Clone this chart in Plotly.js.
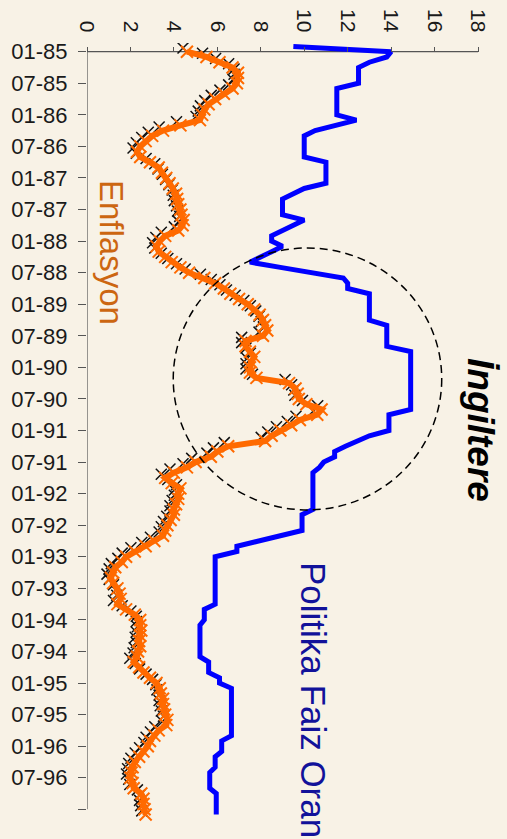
<!DOCTYPE html>
<html><head><meta charset="utf-8">
<script src="https://cdn.plot.ly/plotly-3.0.1.min.js"></script>
<style>html,body{margin:0;padding:0;background:#F8F2E6;overflow:hidden}</style>
</head><body><div id="chart" style="width:507px;height:839px"></div>
<script>
// Politika faiz oranı, aylık, Ara-84 ... Şub-97
const politikaFaiz = [
  9.5, 14, 13.8, 13, 12.5, 12.5, 12.5, 12.5, 11.5, 11.5, 11.5, 11.5,
  11.5, 11.5, 12.4, 11.5, 10.5, 10, 10, 10, 10, 10, 11, 11,
  11, 11, 11, 10, 9.5, 9, 9, 9, 9, 10, 9.5, 9,
  8.5, 8.5, 9, 8.5, 8, 7.5, 8.9, 10.4, 11.8, 12, 12, 13,
  13, 13, 13, 13, 13, 13.8, 13.8, 13.8, 13.8, 13.8, 14.9, 14.9,
  14.9, 14.9, 14.9, 14.9, 14.9, 14.9, 14.9, 14.9, 14.9, 14.9, 13.9, 13.9,
  13.9, 13.9, 13, 12.4, 11.9, 11.4, 11.4, 10.9, 10.7, 10.4, 10.4, 10.4,
  10.4, 10.4, 10.4, 10.4, 10.4, 9.9, 9.9, 9.9, 9.9, 8.9, 7.9, 6.9,
  6.9, 5.9, 5.9, 5.9, 5.9, 5.9, 5.9, 5.9, 5.9, 5.9, 5.9, 5.4,
  5.4, 5.4, 5.2, 5.2, 5.2, 5.2, 5.2, 5.2, 5.2, 5.6, 5.6, 5.6,
  6.1, 6.1, 6.65, 6.65, 6.65, 6.65, 6.65, 6.65, 6.65, 6.65, 6.65, 6.65,
  6.2, 6.2, 6.2, 5.9, 5.9, 5.9, 5.65, 5.65, 5.65, 5.65, 5.95, 5.95,
  5.95, 5.95, 5.95
];
const faizIlkAy = -1; // Ara-84

// Enflasyon, aylık, Oca-85 ... Şub-97
const enflasyon = [
  4.6, 5.5, 6.1, 6.7, 6.95, 6.95, 6.9, 6.7, 6.3, 5.9, 5.6, 5.4,
  5.3, 5.2, 4.3, 3.5, 3.0, 2.7, 2.45, 2.3, 2.45, 2.9, 3.3, 3.45,
  3.65, 3.8, 3.95, 4.1, 4.15, 4.2, 4.3, 4.35, 4.45, 4.4, 4.2, 3.6,
  3.35, 3.2, 3.3, 3.6, 3.9, 4.3, 4.7, 5.4, 5.9, 6.3, 6.6, 7.0,
  7.4, 7.7, 7.95, 8.1, 8.2, 8.3, 8.1, 7.3, 7.3, 7.5, 7.7, 7.55,
  7.5, 7.5, 7.8, 9.3, 9.6, 9.7, 9.75, 10.1, 10.8, 10.6, 9.8, 9.4,
  8.9, 8.5, 8.2, 6.5, 6.0, 5.7, 5.0, 4.6, 4.0, 3.6, 3.9, 4.3,
  4.2, 4.2, 4.1, 4.0, 4.0, 3.85, 3.7, 3.6, 3.5, 3.1, 2.7, 2.2,
  1.8, 1.6, 1.3, 1.2, 1.1, 1.2, 1.4, 1.5, 1.55, 1.4, 1.8, 2.2,
  2.45, 2.45, 2.5, 2.45, 2.4, 2.45, 2.35, 2.3, 2.15, 2.4, 2.6, 2.9,
  3.2, 3.35, 3.4, 3.5, 3.5, 3.55, 3.6, 3.7, 3.65, 3.3, 3.1, 2.9,
  2.8, 2.6, 2.4, 2.2, 2.1, 2.05, 2.0, 2.1, 2.15, 2.5, 2.6, 2.6,
  2.65, 2.7
];
const enflasyonIlkAy = 0; // Oca-85

const donemEtiketleri = ['01-85','07-85','01-86','07-86','01-87','07-87','01-88','07-88',
  '01-89','07-89','01-90','07-90','01-91','07-91','01-92','07-92','01-93','07-93',
  '01-94','07-94','01-95','07-95','01-96','07-96',''];
const degerTikleri = [0, 2, 4, 6, 8, 10, 12, 14, 16, 18];

// ---- geometry (pixels) ----
const W = 507, H = 839;
const L = 87, R = 29, T = 43, B = 16;
const plotW = W - L - R, plotH = H - T - B;
const yTop = -1.654, yBot = 146.6; // months at top/bottom edge of plot area
const px2paperX = px => (px - L) / plotW;
const px2paperY = py => (H - B - py) / plotH;

const faizAy = politikaFaiz.map((_, i) => i + faizIlkAy);
const enfAy = enflasyon.map((_, i) => i + enflasyonIlkAy);
const tickAy = donemEtiketleri.map((_, i) => i * 6);

const traces = [
  { x: politikaFaiz, y: faizAy, type: 'scatter', mode: 'lines',
    line: { color: '#0000FF', width: 5 }, hoverinfo: 'skip' },
  { x: enflasyon.map(v => v - 0.18), y: enfAy.map(m => m - 0.7), type: 'scatter', mode: 'markers',
    marker: { symbol: 'x-thin', size: 11, line: { color: '#111111', width: 1.5 } }, hoverinfo: 'skip' },
  { x: enflasyon, y: enfAy, type: 'scatter', mode: 'lines+markers',
    line: { color: '#FF6A00', width: 6 },
    marker: { symbol: 'x-thin', size: 12, color: '#FF6A00', line: { color: '#FF6A00', width: 2 } }, hoverinfo: 'skip' }
];

const layout = {
  width: W, height: H,
  margin: { l: L, r: R, t: T, b: B, pad: 0 },
  paper_bgcolor: '#F8F2E6', plot_bgcolor: '#F8F2E6',
  showlegend: false,
  font: { family: 'Liberation Sans, Arial, sans-serif', color: '#1a1a1a' },
  xaxis: {
    range: [0, 18], side: 'top', anchor: 'free',
    position: (yBot - 0) / (yBot - yTop),
    tickvals: degerTikleri, ticktext: degerTikleri.map(String),
    ticks: 'outside', ticklen: 5, tickcolor: '#555', tickwidth: 1,
    tickangle: 90, tickfont: { size: 21, color: '#1a1a1a' }, ticklabelstandoff: 7,
    showgrid: false, zeroline: false, showline: false, fixedrange: true
  },
  yaxis: {
    range: [yBot, yTop],
    tickvals: tickAy, ticktext: donemEtiketleri,
    ticks: 'outside', ticklen: 8, tickcolor: '#555', tickwidth: 1,
    tickfont: { size: 22, color: '#1a1a1a' }, ticklabelstandoff: 6,
    showgrid: false, zeroline: false, showline: false, fixedrange: true
  },
  shapes: [
    { type: 'line', xref: 'x', yref: 'y', x0: 0, x1: 0, y0: 0, y1: 144, layer: 'below',
      line: { color: '#555', width: 1.2 } },
    { type: 'line', xref: 'x', yref: 'y', x0: 0, x1: 18, y0: 0, y1: 0, layer: 'below',
      line: { color: '#555', width: 1.2 } },
    { type: 'circle', xref: 'x', yref: 'y', x0: 3.97, x1: 16.33, y0: 37.3, y1: 87.1,
      line: { color: '#000', width: 1.5, dash: '8px,5px' } }
  ],
  annotations: [
    { text: 'Enflasyon', xref: 'paper', yref: 'paper', x: px2paperX(112), y: px2paperY(252),
      xanchor: 'center', yanchor: 'middle', textangle: 90, showarrow: false, borderpad: 0,
      font: { size: 33, color: '#CC6611' } },
    { text: '<b><i>İngiltere</i></b>', xref: 'paper', yref: 'paper', x: px2paperX(481), y: px2paperY(430),
      xanchor: 'center', yanchor: 'middle', textangle: 90, showarrow: false, borderpad: 0,
      font: { size: 37, color: '#000' } },
    { text: 'Politika Faiz Oranı', xref: 'paper', yref: 'paper', x: px2paperX(314), y: px2paperY(561),
      xanchor: 'center', yanchor: 'top', textangle: 90, showarrow: false, borderpad: 0,
      font: { size: 35, color: '#12129A' } }
  ]
};

Plotly.newPlot('chart', traces, layout, { staticPlot: true, displayModeBar: false });
</script>
</body></html>
